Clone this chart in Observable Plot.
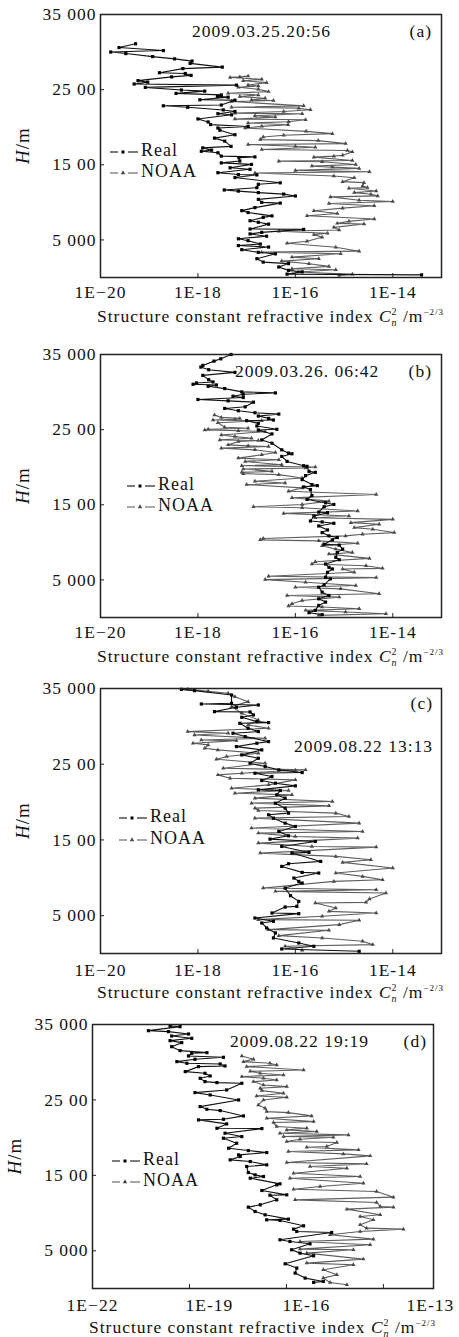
<!DOCTYPE html>
<html><head><meta charset="utf-8">
<script src="https://cdn.jsdelivr.net/npm/d3@7"></script>
<script src="https://cdn.jsdelivr.net/npm/@observablehq/plot@0.6"></script>
<style>
html,body{margin:0;padding:0;background:#fff;}
body{width:459px;height:1337px;position:relative;overflow:hidden;}
.panel{position:absolute;left:0;width:459px;}
.panel svg text{letter-spacing:1px;}
</style></head><body>
<div id="pa" class="panel" style="top:0px"></div>
<div id="pb" class="panel" style="top:340px"></div>
<div id="pc" class="panel" style="top:674px"></div>
<div id="pd" class="panel" style="top:1010px"></div>
<script>
// ---- tick labels / text ----
const yTicks = [35000, 25000, 15000, 5000];
const yTickLabels = ["35 000", "25 00", "15 00", "5 000"];
const xTicksABC = [1e-20, 1e-18, 1e-16, 1e-14];
const xTickLabelsABC = ["1E\u221220", "1E-18", "1E-16", "1E-14"];
const xTicksD = [1e-22, 1e-19, 1e-16, 1e-13];
const xTickLabelsD = ["1E\u221222", "1E-19", "1E-16", "1E-13"];
const panelLabels = ["(a)", "(b)", "(c)", "(d)"];
const panelTimes = ["2009.03.25.20:56", "2009.03.26. 06:42", "2009.08.22 13:13", "2009.08.22 19:19"];
const seriesNames = ["Real", "NOAA"];

// ---- data: [height H (m), log10 of Cn^2] ----
const realA = [[31100,-19.28],[30600,-19.62],[30200,-18.71],[30000,-19.79],[29800,-19.48],[29400,-18.93],[29100,-18.48],[28800,-18.12],[28500,-18.16],[28000,-17.5],[27800,-18.31],[27250,-18.79],[27150,-18.26],[26900,-18.14],[26700,-18.54],[26200,-19.23],[26000,-19.03],[25750,-19.31],[25600,-17.21],[25300,-19.08],[24950,-18.34],[24800,-17.86],[24500,-18.45],[24300,-17.52],[24100,-17.6],[24000,-17.38],[23650,-17.96],[23600,-17.24],[22950,-17.52],[22850,-18.71],[22650,-18.21],[22300,-17.48],[22100,-17.24],[21800,-17.59],[21650,-17.31],[21100,-18.0],[20700,-17.79],[20350,-17.74],[20100,-16.97],[19900,-17.59],[19600,-17.55],[19000,-17.24],[18550,-17.66],[18150,-17.45],[17450,-17.32],[17250,-17.9],[16950,-17.72],[16800,-17.93],[16600,-17.59],[16150,-17.52],[16050,-16.83],[15950,-17.16],[15500,-17.14],[15250,-17.52],[15050,-16.9],[14600,-17.34],[14400,-16.93],[13950,-17.59],[13700,-17.17],[13650,-16.79],[13300,-17.24],[12600,-16.31],[12400,-16.76],[11950,-16.79],[11650,-17.46],[11500,-17.17],[11300,-16.76],[11100,-16.24],[10850,-16.0],[10400,-16.76],[10000,-16.69],[9900,-16.31],[9300,-16.83],[8900,-17.1],[8650,-16.97],[8200,-16.48],[8000,-16.66],[7550,-16.93],[7350,-16.76],[7100,-16.55],[6450,-16.93],[6400,-15.83],[6000,-16.69],[5800,-16.93],[5500,-16.59],[5150,-17.17],[4900,-16.97],[4450,-16.72],[4250,-17.17],[4050,-16.55],[3700,-17.1],[3350,-16.76],[3150,-16.41],[2500,-16.79],[2050,-16.66],[1850,-16.14],[1400,-16.34],[950,-16.14],[750,-15.86],[450,-16.17],[350,-13.41]];
const noaaA = [[26800,-16.97],[26700,-17.14],[26630,-17.34],[26370,-16.69],[26190,-17.07],[25930,-16.59],[25620,-16.97],[25485,-16.76],[25310,-17.17],[25045,-16.76],[24736,-16.55],[24516,-17.38],[24296,-16.76],[24076,-17.14],[23855,-16.62],[23635,-16.9],[23547,-16.45],[23415,-17.31],[22842,-15.83],[22666,-17.31],[22534,-15.93],[22314,-15.69],[22093,-16.24],[21873,-17.24],[21785,-15.86],[21521,-16.83],[21345,-16.41],[21080,-17.24],[20992,-15.79],[20728,-16.14],[20552,-16.97],[20331,-16.15],[20111,-16.69],[19891,-17.03],[19451,-15.78],[19142,-15.24],[18922,-16.24],[18702,-16.66],[18351,-16.72],[18217,-15.53],[17821,-14.97],[17689,-16.97],[17468,-16.0],[17336,-15.59],[17028,-16.69],[16896,-14.93],[16719,-14.83],[16279,-15.03],[16147,-15.21],[16014,-15.62],[15574,-14.83],[15486,-16.34],[15398,-15.45],[15045,-14.76],[14825,-15.66],[14693,-15.24],[14517,-14.69],[14253,-16.0],[14076,-14.48],[13900,-16.83],[13504,-15.21],[13284,-14.79],[12755,-15.03],[12622,-14.59],[12182,-14.62],[11962,-14.52],[11874,-14.9],[11521,-14.34],[11301,-14.79],[11081,-14.45],[10860,-14.31],[10728,-15.28],[10288,-14.69],[10112,-14.0],[9847,-15.31],[9539,-14.38],[9231,-15.03],[8878,-15.62],[8526,-15.14],[8218,-15.76],[7777,-14.38],[7469,-14.9],[7204,-15.14],[7116,-14.59],[6676,-15.21],[6324,-15.1],[6148,-16.34],[5883,-15.34],[5707,-15.62],[5355,-15.45],[4826,-15.76],[4562,-16.17],[4033,-15.17],[3504,-14.69],[3372,-16.69],[3152,-15.07],[2712,-16.07],[2491,-15.52],[2183,-16.28],[1831,-15.72],[1478,-15.31],[1170,-16.07],[1038,-15.17],[729,-15.93],[421,-14.83],[289,-15.1]];
const realB = [[35000,-17.32],[34427,-17.53],[34119,-17.67],[33546,-17.90],[33326,-17.94],[32974,-17.78],[32621,-17.24],[32225,-17.90],[31652,-17.78],[31344,-17.69],[31212,-18.03],[31035,-18.10],[30947,-17.62],[30771,-17.79],[30463,-17.45],[30023,-17.10],[29890,-16.41],[29714,-17.07],[29450,-17.28],[29273,-17.07],[29009,-18.0],[28833,-17.38],[28657,-16.86],[28040,-17.03],[27820,-17.45],[27512,-17.17],[27247,-16.83],[27071,-16.34],[26807,-16.76],[26499,-16.55],[26278,-16.45],[26190,-17.0],[25838,-16.76],[25486,-16.79],[25045,-16.38],[24957,-16.76],[24428,-16.48],[23635,-16.69],[23195,-16.48],[22314,-16.28],[21873,-16.14],[21785,-16.07],[21433,-16.28],[20772,-16.17],[20199,-15.83],[20111,-15.76],[19451,-15.72],[19318,-15.59],[18878,-15.79],[18351,-15.86],[17689,-15.66],[17556,-15.55],[17380,-15.83],[17028,-15.69],[16235,-15.66],[15706,-15.76],[15266,-15.38],[15045,-15.21],[14737,-15.41],[14032,-15.52],[13944,-15.34],[13504,-15.62],[12843,-15.69],[12711,-15.45],[12534,-15.21],[12182,-15.52],[11654,-15.34],[11301,-15.45],[10861,-15.31],[10641,-15.14],[10332,-15.24],[9760,-15.41],[9628,-15.10],[9099,-15.03],[8659,-15.14],[7998,-15.17],[7690,-15.10],[7117,-15.38],[6676,-15.31],[6456,-15.24],[6015,-15.34],[5355,-15.38],[5134,-15.28],[4341,-15.41],[4033,-15.52],[3372,-15.45],[2932,-15.31],[2491,-15.52],[2051,-15.38],[1610,-15.52],[949,-15.59],[641,-15.72],[377,-15.45]];
const noaaB = [[26939,-17.66],[26630,-17.52],[26498,-17.14],[26366,-17.24],[26278,-17.69],[26190,-16.69],[25926,-17.59],[25309,-17.45],[25177,-16.97],[25045,-17.79],[24957,-17.86],[24868,-17.17],[24736,-16.62],[24296,-17.52],[24076,-17.24],[23855,-16.90],[23635,-17.55],[23547,-16.76],[23415,-17.17],[22974,-17.38],[22842,-16.97],[22754,-16.55],[22534,-17.52],[22314,-16.83],[21961,-16.41],[21653,-16.69],[21212,-17.17],[20992,-16.34],[20772,-17.03],[20331,-16.28],[20199,-17.10],[20023,-15.59],[19891,-15.79],[19759,-17.07],[19451,-16.48],[19318,-17.10],[19142,-17.07],[19010,-16.34],[18569,-15.86],[18129,-16.83],[17909,-16.21],[17689,-17.0],[17248,-15.86],[16807,-16.14],[16367,-14.34],[15926,-16.07],[15486,-15.31],[15045,-15.86],[14737,-16.86],[14605,-15.86],[14164,-14.72],[13856,-16.24],[13504,-14.90],[13283,-15.59],[13063,-14.0],[12623,-14.86],[12402,-14.28],[11962,-14.79],[11742,-14.41],[11301,-13.97],[11081,-14.62],[10861,-14.97],[10508,-16.66],[10332,-16.72],[10200,-15.52],[9891,-14.72],[9539,-15.45],[9099,-15.17],[8659,-14.83],[8438,-15.31],[7865,-14.48],[7425,-15.59],[7117,-15.66],[6896,-14.55],[6544,-14.21],[6456,-15.03],[6015,-14.79],[5486,-16.55],[5310,-14.34],[5046,-16.62],[4694,-15.79],[4253,-14.76],[4033,-16.0],[3813,-15.07],[3152,-14.28],[2932,-16.17],[2711,-15.10],[2271,-15.86],[1830,-16.07],[1522,-16.14],[1390,-15.45],[1170,-14.69],[949,-15.79],[729,-14.97],[509,-14.14],[289,-15.52]];
const realC = [[34890,-18.34],[34714,-18.07],[34143,-17.31],[33044,-17.31],[32956,-17.93],[32824,-16.76],[32516,-17.21],[31945,-17.66],[31900,-16.93],[31505,-16.86],[31197,-17.10],[30626,-16.79],[30494,-16.55],[30406,-17.14],[29747,-16.97],[29307,-16.76],[29087,-17.28],[28648,-17.03],[27988,-16.55],[27769,-16.79],[27329,-17.21],[26889,-16.69],[26230,-17.10],[25790,-16.76],[25131,-16.93],[24691,-16.62],[24252,-16.34],[23900,-15.86],[23812,-16.83],[23373,-16.48],[22845,-16.69],[22493,-16.41],[22142,-16.0],[21614,-16.76],[21526,-16.31],[20955,-16.38],[20515,-16.21],[19856,-16.41],[19196,-16.21],[18537,-16.14],[18317,-16.55],[17877,-16.45],[17218,-16.21],[16778,-16.0],[16119,-16.34],[15548,-16.14],[15108,-16.52],[14800,-15.59],[14141,-16.28],[13350,-15.72],[13262,-16.07],[12163,-15.48],[11855,-16.14],[11503,-16.28],[10712,-15.86],[10624,-15.52],[9965,-16.03],[9525,-15.93],[9305,-15.86],[8646,-16.21],[7635,-16.10],[6887,-15.93],[6228,-15.97],[6140,-16.21],[5349,-16.48],[5261,-15.93],[4689,-16.83],[4250,-16.45],[4030,-16.69],[3371,-16.59],[2711,-16.41],[2052,-16.45],[1393,-15.93],[953,-15.62],[601,-16.28],[294,-14.69]];
const noaaC = [[34890,-18.21],[34626,-17.79],[34363,-17.38],[33923,-17.24],[33264,-16.97],[32604,-17.31],[31725,-17.10],[30846,-16.76],[30186,-16.97],[29747,-16.55],[29307,-18.21],[29087,-17.38],[28868,-18.07],[28428,-16.62],[28208,-17.93],[28120,-17.21],[27769,-18.10],[27549,-17.79],[27109,-17.86],[26889,-17.59],[26450,-16.76],[26010,-17.41],[25659,-17.62],[25131,-16.62],[24471,-17.48],[24252,-15.79],[24208,-16.0],[23812,-17.10],[23592,-17.59],[23153,-17.34],[22933,-16.0],[22274,-16.55],[21834,-17.31],[21526,-16.14],[21175,-17.24],[20955,-16.07],[20515,-16.83],[20075,-15.24],[19856,-16.90],[19504,-15.31],[19196,-16.83],[18889,-16.76],[18537,-15.17],[18097,-14.90],[17877,-16.83],[17218,-14.69],[16559,-16.90],[16119,-14.62],[15899,-16.76],[15460,-16.0],[15240,-14.72],[14581,-16.76],[14141,-15.66],[14053,-14.34],[13262,-16.72],[12822,-15.17],[12383,-14.45],[12031,-15.03],[11284,-14.0],[10624,-15.17],[10185,-14.62],[9745,-14.21],[9525,-15.21],[8646,-16.66],[8426,-14.34],[8206,-16.41],[7986,-14.14],[7196,-14.48],[6756,-14.55],[6668,-15.59],[6008,-15.17],[5569,-15.31],[5349,-14.34],[4910,-15.45],[4470,-16.76],[4382,-14.69],[3810,-15.10],[3151,-16.55],[3063,-15.31],[2360,-16.34],[2052,-15.45],[1612,-14.62],[1173,-14.41],[953,-16.21],[425,-15.86]];
const realD = [[34801,-19.60],[34713,-19.29],[34183,-20.27],[34051,-19.65],[33742,-19.03],[33477,-19.55],[33168,-18.93],[32859,-19.60],[32594,-19.24],[32064,-19.55],[31534,-19.29],[31269,-18.46],[31181,-18.93],[30828,-19.03],[30651,-17.95],[30386,-18.83],[30077,-19.39],[29857,-19.08],[29768,-18.05],[29503,-17.90],[29415,-18.72],[28753,-19.13],[28532,-18.52],[28179,-18.36],[27870,-18.67],[27428,-18.52],[27296,-18.15],[27208,-17.38],[26325,-17.85],[25971,-18.83],[25662,-18.36],[25000,-17.48],[24117,-18.67],[23764,-18.46],[23587,-18.05],[22881,-17.33],[22439,-17.95],[22351,-18.72],[21821,-17.85],[21247,-18.15],[21200,-16.76],[20585,-17.90],[20143,-17.38],[19923,-17.95],[19261,-17.54],[18598,-17.79],[18289,-17.18],[18024,-16.61],[17715,-17.48],[17495,-17.43],[17053,-17.74],[16832,-17.12],[16391,-16.61],[16170,-17.23],[15375,-17.18],[15066,-16.97],[14845,-16.71],[14625,-17.12],[13874,-16.20],[13742,-16.30],[12991,-16.76],[12417,-15.99],[12370,-16.51],[11755,-16.30],[11093,-16.81],[10784,-17.18],[10210,-16.97],[9768,-16.66],[9194,-15.94],[9106,-16.61],[9018,-16.20],[8311,-15.47],[7870,-15.78],[7561,-15.68],[7428,-14.60],[6457,-16.20],[6236,-15.89],[5927,-15.27],[5133,-15.84],[4691,-15.58],[4338,-15.16],[3278,-16.04],[2704,-15.68],[2042,-15.73],[1379,-15.42],[938,-14.86],[806,-15.16]];
const noaaD = [[30828,-17.38],[30386,-17.02],[30077,-17.33],[29857,-16.51],[29636,-16.30],[29415,-17.23],[28974,-15.47],[28797,-17.12],[28532,-16.81],[28311,-16.09],[28091,-17.38],[27870,-16.71],[27649,-16.30],[27428,-17.02],[26987,-16.71],[26766,-15.99],[26545,-16.81],[26236,-16.76],[25883,-16.09],[25530,-16.92],[25353,-15.99],[25000,-16.71],[24338,-16.87],[23896,-16.66],[23455,-16.61],[23322,-15.94],[22881,-15.22],[22572,-16.61],[22130,-15.16],[21998,-16.40],[21468,-16.30],[21247,-15.37],[21027,-15.99],[20806,-15.06],[20585,-16.20],[20364,-14.08],[20143,-16.09],[20055,-14.55],[19790,-15.58],[19481,-15.99],[19349,-14.44],[18819,-14.75],[18731,-15.37],[18378,-13.77],[18157,-15.94],[17847,-14.24],[17583,-13.41],[16700,-15.99],[16523,-13.52],[16170,-15.27],[15949,-14.13],[15287,-15.78],[14845,-13.72],[14625,-15.89],[13963,-13.62],[13521,-14.96],[13168,-15.78],[12859,-13.21],[12108,-12.69],[11755,-15.73],[11402,-13.21],[10872,-13.10],[10784,-12.69],[10519,-14.13],[9768,-13.10],[9548,-13.72],[9106,-13.31],[8444,-13.72],[8002,-13.52],[7870,-12.38],[7561,-13.72],[7119,-14.65],[6545,-13.31],[6236,-15.58],[5794,-13.41],[5220,-15.58],[5133,-13.93],[4691,-15.37],[3896,-13.62],[3366,-15.37],[3145,-13.93],[2484,-14.86],[1821,-14.44],[1379,-14.86],[806,-14.65],[496,-14.13]];

const FONT = '"Liberation Serif","Times New Roman",serif';
const FW = 341;
const rows = arr => arr.map(([h, e]) => ({h, c: Math.pow(10, e)}));

function decorate(svg, cfg, idx) {
  const L = cfg.ml, T = cfg.mt, Hf = cfg.fh;
  const g = d3.select(svg).append("g").attr("font-family", FONT).attr("fill", "#111");
  // y title
  const yt = g.append("text")
    .attr("transform", `translate(${L - 75},${T + Hf / 2}) rotate(-90)`)
    .attr("text-anchor", "middle").attr("dominant-baseline", "middle")
    .attr("font-size", 19);
  yt.append("tspan").attr("font-style", "italic").text("H");
  yt.append("tspan").text("/m");
  // x title
  const xt = g.append("text").attr("x", L + FW / 2).attr("y", T + Hf + 45)
    .attr("text-anchor", "middle").attr("font-size", 17.5);
  xt.append("tspan").text("Structure constant refractive index ");
  xt.append("tspan").attr("font-style", "italic").text("C");
  xt.append("tspan").attr("font-style", "italic").attr("font-size", 10).attr("dy", 4).text("n");
  xt.append("tspan").attr("font-size", 10).attr("dx", -6).attr("dy", -11).text("2");
  xt.append("tspan").attr("dy", 7).text(" /m");
  xt.append("tspan").attr("font-size", 9).attr("dy", -7).text("\u22122/3");
  // date and panel label
  g.append("text").attr("x", L + cfg.dateX).attr("y", T + cfg.dateY)
    .attr("text-anchor", cfg.dateAnchor).attr("dominant-baseline", "middle")
    .attr("font-size", 17.5).text(panelTimes[idx]);
  g.append("text").attr("x", L + FW - cfg.labRight).attr("y", T + cfg.labY)
    .attr("text-anchor", "end").attr("dominant-baseline", "middle")
    .attr("font-size", 17.5).text(panelLabels[idx]);
  // legend
  seriesNames.forEach((name, i) => {
    const x0 = L + cfg.legX, y0 = T + cfg.legY[i];
    const col = i === 0 ? "#111" : "#5e5e5e";
    g.append("line").attr("x1", x0).attr("x2", x0 + 8).attr("y1", y0).attr("y2", y0).attr("stroke", col).attr("stroke-width", 1.1);
    g.append("line").attr("x1", x0 + 18).attr("x2", x0 + 28).attr("y1", y0).attr("y2", y0).attr("stroke", col).attr("stroke-width", 1.1);
    if (i === 0) g.append("rect").attr("x", x0 + 11.5).attr("y", y0 - 1.5).attr("width", 3).attr("height", 3).attr("fill", "#000");
    else g.append("path").attr("transform", `translate(${x0 + 13},${y0})`).attr("d", d3.symbol(d3.symbolTriangle, 9)()).attr("fill", "#4a4a4a");
    g.append("text").attr("x", x0 + 31).attr("y", y0).attr("dominant-baseline", "middle")
      .attr("text-anchor", "start").attr("font-size", 18).attr("fill", "#111").text(name);
  });
}

function drawPanel(id, idx, cfg) {
  const real = rows(cfg.real), noaa = rows(cfg.noaa);
  const xl = new Map(cfg.xTicks.map((t, i) => [t, cfg.xLabels[i]]));
  const yl = new Map(yTicks.map((t, i) => [t, yTickLabels[i]]));
  const xLabelMarks = cfg.xGroups.map(gr =>
    Plot.axisX(gr.ticks, {anchor: "bottom", tickSize: 0, tickPadding: cfg.xPad, dx: gr.dx, tickFormat: d => xl.get(d), label: null, fontSize: 17.5}));
  const chart = Plot.plot({
    width: 459, height: cfg.mt + cfg.fh + 60,
    marginTop: cfg.mt, marginBottom: 60, marginLeft: cfg.ml, marginRight: 459 - cfg.ml - FW,
    x: {type: "log", domain: cfg.xDomain, axis: null},
    y: {type: "linear", domain: [0, 35000], axis: null},
    style: {fontFamily: FONT, fontSize: "17px", color: "#111", background: "white", overflow: "visible"},
    marks: [
      Plot.line(noaa, {x: "c", y: "h", stroke: "#5e5e5e", strokeWidth: 1.1}),
      Plot.dot(noaa, {x: "c", y: "h", symbol: "triangle", r: 1.6, fill: "#4a4a4a", stroke: "none"}),
      Plot.line(real, {x: "c", y: "h", stroke: "#111", strokeWidth: 1.1}),
      Plot.dot(real, {x: "c", y: "h", symbol: "square", r: 1.8, fill: "#000", stroke: "none"}),
      Plot.frame({stroke: "#222", strokeWidth: 1.5}),
      Plot.axisY(yTicks.slice(1), {anchor: "left", tickSize: 4, insetLeft: 4, tickFormat: () => "", label: null, stroke: "#222"}),
      Plot.axisX(cfg.xTicks.slice(1), {anchor: "bottom", tickSize: 4, insetBottom: 4, tickFormat: () => "", label: null, stroke: "#222"}),
      Plot.axisY(yTicks, {anchor: "left", tickSize: 0, tickPadding: 4, tickFormat: d => yl.get(d), label: null, fontSize: 17.5}),
      ...xLabelMarks
    ]
  });
  document.getElementById(id).appendChild(chart);
  decorate(chart, cfg, idx);
}

const abcX = {xTicks: xTicksABC, xLabels: xTickLabelsABC, xDomain: [1e-20, 1e-13], ml: 100,
  xGroups: [{ticks: xTicksABC, dx: 0}]};

drawPanel("pa", 0, {...abcX, real: realA, noaa: noaaA, mt: 14, fh: 263, xPad: 8,
  dateX: 92, dateY: 19, dateAnchor: "start", labRight: 9, labY: 19, legX: 10, legY: [138, 159]});
drawPanel("pb", 1, {...abcX, real: realB, noaa: noaaB, mt: 14, fh: 263, xPad: 8,
  dateX: 135, dateY: 19, dateAnchor: "start", labRight: 9, labY: 19, legX: 27, legY: [132, 153]});
drawPanel("pc", 2, {...abcX, real: realC, noaa: noaaC, mt: 14, fh: 265, xPad: 10,
  dateX: FW - 8, dateY: 60, dateAnchor: "end", labRight: 8, labY: 17, legX: 19, legY: [130, 152]});
drawPanel("pd", 3, {xTicks: xTicksD, xLabels: xTickLabelsD, xDomain: [1e-22, Math.pow(10, -11.45)], ml: 92,
  xGroups: [{ticks: [xTicksD[0]], dx: 0}, {ticks: [xTicksD[1], xTicksD[2]], dx: 20}, {ticks: [xTicksD[3]], dx: 47}],
  real: realD, noaa: noaaD, mt: 14, fh: 264, xPad: 10,
  dateX: 138, dateY: 19, dateAnchor: "start", labRight: 6, labY: 19, legX: 20, legY: [137, 158]});
</script>
</body></html>
